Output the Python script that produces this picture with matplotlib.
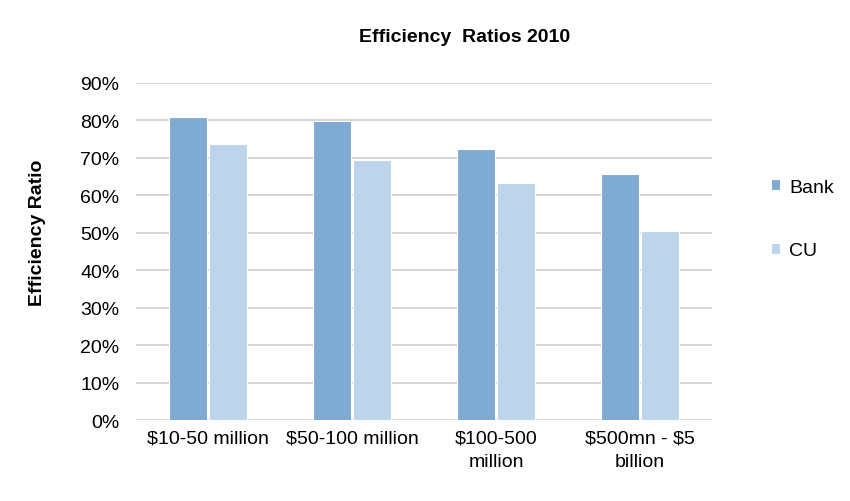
import matplotlib
matplotlib.use('Agg')
import matplotlib.pyplot as plt
import numpy as np
from matplotlib.ticker import PercentFormatter

plt.rcParams['font.family'] = ['Liberation Sans', 'DejaVu Sans']

# Data
categories = ['\\$10-50 million', '\\$50-100 million', '\\$100-500\nmillion', '\\$500mn - \\$5\nbillion']
bank = [80.8, 79.8, 72.4, 65.7]
cu = [73.7, 69.5, 63.4, 50.5]

bank_color = '#7FAAD3'
cu_color = '#BDD5EA'

fig = plt.figure(figsize=(8.5, 5.02), dpi=100)
ax = fig.add_axes([136 / 850, 1 - 421 / 502, 576 / 850, 337 / 502])

x = np.arange(len(categories))
w = 0.265
ax.bar(x - 0.14, bank, w, color=bank_color, edgecolor='white', linewidth=0.8, label='Bank', zorder=3)
ax.bar(x + 0.14, cu, w, color=cu_color, edgecolor='white', linewidth=0.8, label='CU', zorder=3)

ax.set_xlim(-0.5, len(categories) - 0.5)
ax.set_ylim(0, 90)
ax.set_yticks(np.arange(0, 91, 10))
ax.yaxis.set_major_formatter(PercentFormatter(decimals=0))
ax.set_xticks(x)
ax.set_xticklabels(categories, linespacing=1.45)
ax.tick_params(axis='both', length=0, labelsize=14, colors='#000000')
ax.tick_params(axis='x', pad=7)
ax.tick_params(axis='y', pad=12)
ax.grid(axis='y', color='#D0D0D0', linewidth=1.2, zorder=0)
for s in ax.spines.values():
    s.set_visible(False)

ax.set_ylabel('Efficiency Ratio', fontsize=14, fontweight='bold')
ax.yaxis.set_label_coords((46 - 136) / 576, (421 - 233) / 337)

fig.text(465 / 850, 1 - 37 / 502, 'Efficiency  Ratios 2010', ha='center', va='center',
         fontsize=14, fontweight='bold')

ax.legend(loc='center left', bbox_to_anchor=((753 - 136) / 576, (421 - 220) / 337),
          frameon=False, fontsize=14, handlelength=0.5, handleheight=0.5,
          labelspacing=2.4, handletextpad=0.45)

fig.savefig('out.png', dpi=100)
